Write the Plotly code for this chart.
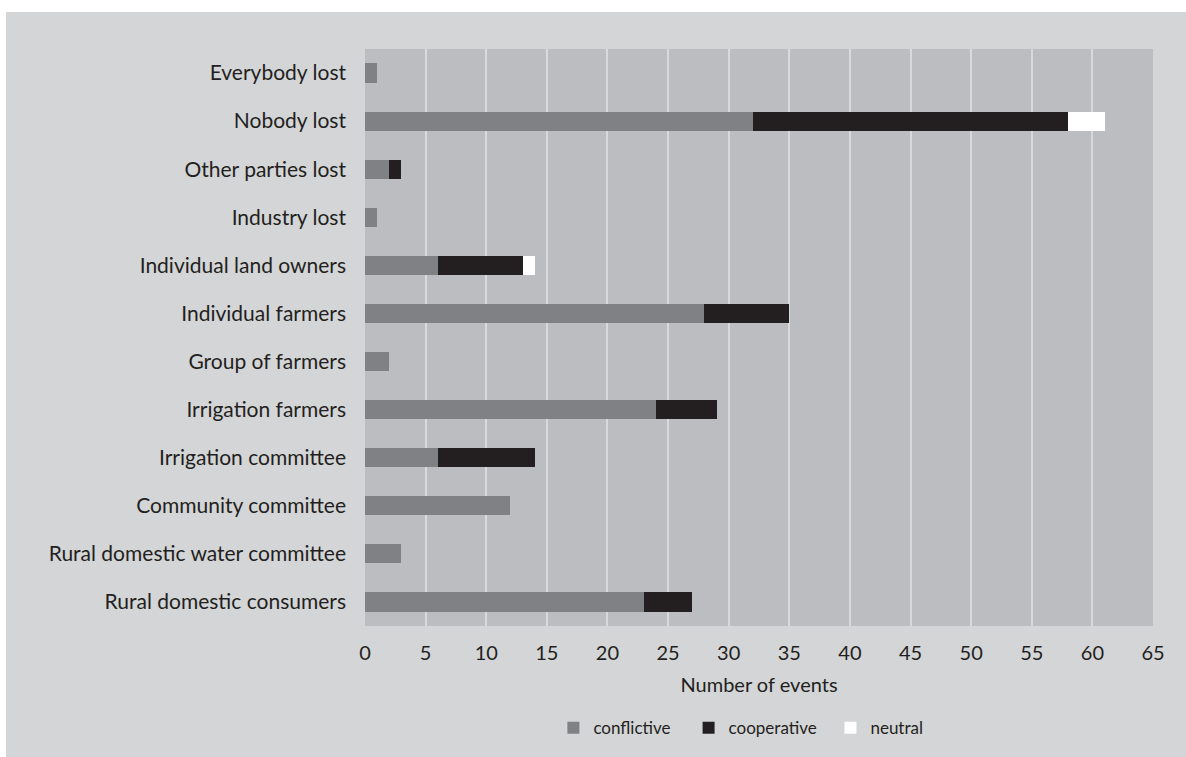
import plotly.graph_objects as go

# -----------------------------
# Data
# -----------------------------
categories = [
    "Everybody lost",
    "Nobody lost",
    "Other parties lost",
    "Industry lost",
    "Individual land owners",
    "Individual farmers",
    "Group of farmers",
    "Irrigation farmers",
    "Irrigation committee",
    "Community committee",
    "Rural domestic water committee",
    "Rural domestic consumers",
]
conflictive = [1, 32, 2, 1, 6, 28, 2, 24, 6, 12, 3, 23]
cooperative = [0, 26, 1, 0, 7, 7, 0, 5, 8, 0, 0, 4]
neutral = [0, 3, 0, 0, 1, 0, 0, 0, 0, 0, 0, 0]
x_ticks = list(range(0, 70, 5))

FONT = "Lato"
PANEL = "#d4d5d7"
PLOT_BG = "#bcbdc0"
NBSP = "\u00a0"  # extra room between legend items

# -----------------------------
# Plot
# -----------------------------
fig = go.Figure()

for name, vals, color in [
    ("conflictive" + NBSP * 3, conflictive, "#808184"),
    ("cooperative" + NBSP * 2, cooperative, "#231f20"),
    ("neutral", neutral, "#ffffff"),
]:
    fig.add_trace(go.Bar(
        y=categories,
        x=vals,
        name=name,
        orientation="h",
        marker=dict(color=color, line=dict(width=0)),
    ))

fig.update_layout(
    barmode="stack",
    bargap=0.6,
    width=1186,
    height=757,
    margin=dict(l=365, r=33, t=49, b=130),
    paper_bgcolor=PANEL,
    plot_bgcolor=PLOT_BG,
    font=dict(family=FONT, color="#231f20"),
    showlegend=True,
    legend=dict(
        orientation="h",
        x=0.477, xanchor="center",
        y=-0.175, yanchor="middle",
        font=dict(size=17),
        bgcolor="rgba(0,0,0,0)",
        itemwidth=30,
        traceorder="normal",
    ),
    shapes=[
        # white strips above and left of the grey panel
        dict(type="rect", xref="paper", yref="paper",
             x0=-1, x1=2, y0=(627 - 12) / 578, y1=2,
             fillcolor="white", line=dict(width=0), layer="below"),
        dict(type="rect", xref="paper", yref="paper",
             x0=-1, x1=(6 - 365) / 788, y0=-1, y1=2,
             fillcolor="white", line=dict(width=0), layer="below"),
    ],
)

fig.update_xaxes(
    range=[0, 65],
    tickvals=x_ticks,
    showgrid=True,
    gridcolor="#d8d9db",
    gridwidth=2,
    zeroline=False,
    showline=False,
    tickfont=dict(size=20),
    ticklabelstandoff=13,
    title=dict(text="Number of events", font=dict(size=20), standoff=14),
)
fig.update_yaxes(
    autorange="reversed",
    showgrid=False,
    zeroline=False,
    tickfont=dict(size=21),
    ticklabelstandoff=18,
)

fig.write_html(
    "out.html",
    config={"displayModeBar": False},
    post_script="document.body.style.margin='0px';",
)
